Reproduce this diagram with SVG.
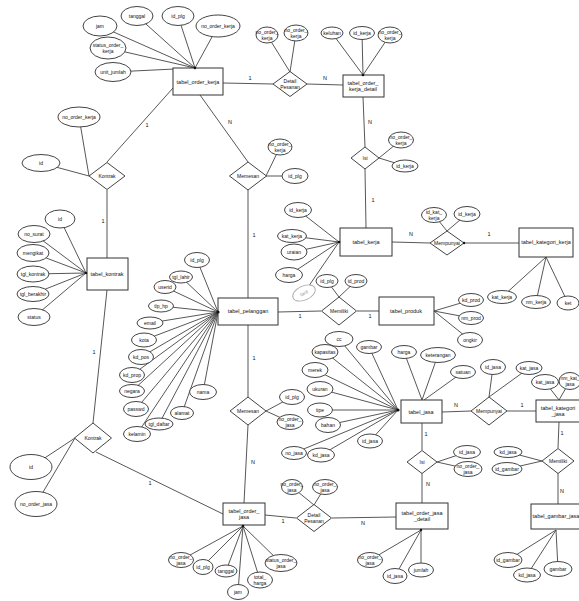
<svg xmlns="http://www.w3.org/2000/svg" width="579" height="601" viewBox="0 0 579 601">
<style>
.bg{fill:#fff}
.c line{stroke:#444;stroke-width:0.9;fill:none}
.e{fill:#fff;stroke:#444;stroke-width:1}
.g{fill:#fff;stroke:#aaa;stroke-width:0.9}
.r{fill:#fff;stroke:#333;stroke-width:1}
.d{fill:#fff;stroke:#444;stroke-width:1}
text{font-family:"Liberation Sans",Arial,sans-serif;font-size:5px;fill:#111;text-anchor:middle;dominant-baseline:central}
.et{font-size:5.5px}
.gt{fill:#999}
.k{font-size:5.5px}
.dot{fill:#111}
</style>
<rect class="bg" x="0" y="0" width="579" height="601"/>
<g id="connectors" class="c">
<line x1="223" y1="83" x2="273" y2="84"/>
<line x1="307" y1="84" x2="343" y2="85"/>
<line x1="363" y1="97" x2="365" y2="147"/>
<line x1="365" y1="169" x2="366" y2="228"/>
<line x1="173" y1="88" x2="107" y2="162"/>
<line x1="107" y1="190" x2="107" y2="258"/>
<line x1="200" y1="95" x2="248" y2="162"/>
<line x1="248" y1="190" x2="248" y2="298"/>
<line x1="392" y1="242" x2="430" y2="243"/>
<line x1="464" y1="243" x2="519" y2="243"/>
<line x1="278" y1="312" x2="321" y2="311"/>
<line x1="357" y1="311" x2="379" y2="311"/>
<line x1="248" y1="325" x2="248" y2="397"/>
<line x1="248" y1="425" x2="244" y2="503"/>
<line x1="107" y1="290" x2="93" y2="423"/>
<line x1="96" y1="452" x2="223" y2="514"/>
<line x1="265" y1="515" x2="296" y2="518"/>
<line x1="332" y1="518" x2="396" y2="517"/>
<line x1="442" y1="412" x2="471" y2="411"/>
<line x1="507" y1="411" x2="536" y2="411"/>
<line x1="422" y1="423" x2="422" y2="450"/>
<line x1="422" y1="473" x2="422" y2="503"/>
<line x1="559" y1="422" x2="558" y2="448"/>
<line x1="558" y1="473" x2="558" y2="504"/>
<line x1="100" y1="26" x2="195" y2="68"/>
<line x1="137" y1="16" x2="195" y2="68"/>
<line x1="178" y1="16" x2="195" y2="68"/>
<line x1="218" y1="26" x2="195" y2="68"/>
<line x1="108" y1="48" x2="195" y2="68"/>
<line x1="113" y1="72" x2="195" y2="68"/>
<line x1="267" y1="35" x2="290" y2="72"/>
<line x1="296" y1="33" x2="290" y2="72"/>
<line x1="332" y1="33" x2="363" y2="75"/>
<line x1="362" y1="33" x2="363" y2="75"/>
<line x1="390" y1="35" x2="363" y2="75"/>
<line x1="401" y1="140" x2="379" y2="158"/>
<line x1="405" y1="166" x2="379" y2="158"/>
<line x1="79" y1="117" x2="89" y2="176"/>
<line x1="41" y1="163" x2="89" y2="176"/>
<line x1="280" y1="147" x2="266" y2="176"/>
<line x1="295" y1="176" x2="266" y2="176"/>
<line x1="60" y1="219" x2="86" y2="273"/>
<line x1="34" y1="234" x2="86" y2="273"/>
<line x1="33" y1="253" x2="86" y2="273"/>
<line x1="33" y1="274" x2="86" y2="273"/>
<line x1="33" y1="294" x2="86" y2="273"/>
<line x1="34" y1="317" x2="86" y2="273"/>
<line x1="298" y1="210" x2="339" y2="242"/>
<line x1="292" y1="236" x2="339" y2="242"/>
<line x1="294" y1="252" x2="339" y2="242"/>
<line x1="289" y1="275" x2="339" y2="242"/>
<line x1="304" y1="293" x2="339" y2="242"/>
<line x1="434" y1="215" x2="447" y2="231"/>
<line x1="467" y1="214" x2="447" y2="231"/>
<line x1="502" y1="297" x2="546" y2="257"/>
<line x1="536" y1="302" x2="546" y2="257"/>
<line x1="568" y1="303" x2="546" y2="257"/>
<line x1="327" y1="281" x2="339" y2="297"/>
<line x1="356" y1="281" x2="339" y2="297"/>
<line x1="471" y1="300" x2="434" y2="311"/>
<line x1="471" y1="318" x2="434" y2="311"/>
<line x1="470" y1="340" x2="434" y2="311"/>
<line x1="197" y1="260" x2="218" y2="312"/>
<line x1="181" y1="277" x2="218" y2="312"/>
<line x1="165" y1="287" x2="218" y2="312"/>
<line x1="161" y1="306" x2="218" y2="312"/>
<line x1="150" y1="323" x2="218" y2="312"/>
<line x1="144" y1="340" x2="218" y2="312"/>
<line x1="141" y1="357" x2="218" y2="312"/>
<line x1="132" y1="375" x2="218" y2="312"/>
<line x1="132" y1="391" x2="218" y2="312"/>
<line x1="136" y1="409" x2="218" y2="312"/>
<line x1="137" y1="434" x2="218" y2="312"/>
<line x1="159" y1="424" x2="218" y2="312"/>
<line x1="182" y1="413" x2="218" y2="312"/>
<line x1="203" y1="392" x2="218" y2="312"/>
<line x1="292" y1="397" x2="266" y2="411"/>
<line x1="290" y1="422" x2="266" y2="411"/>
<line x1="339" y1="339" x2="398" y2="410"/>
<line x1="369" y1="347" x2="398" y2="410"/>
<line x1="325" y1="352" x2="398" y2="410"/>
<line x1="315" y1="370" x2="398" y2="410"/>
<line x1="320" y1="389" x2="398" y2="410"/>
<line x1="320" y1="410" x2="398" y2="410"/>
<line x1="328" y1="425" x2="398" y2="410"/>
<line x1="370" y1="441" x2="398" y2="410"/>
<line x1="294" y1="453" x2="398" y2="410"/>
<line x1="321" y1="455" x2="398" y2="410"/>
<line x1="404" y1="352" x2="422" y2="400"/>
<line x1="438" y1="355" x2="422" y2="400"/>
<line x1="463" y1="372" x2="424" y2="400"/>
<line x1="493" y1="367" x2="489" y2="397"/>
<line x1="529" y1="368" x2="489" y2="397"/>
<line x1="545" y1="382" x2="559" y2="400"/>
<line x1="570" y1="381" x2="559" y2="400"/>
<line x1="31" y1="467" x2="75" y2="438"/>
<line x1="36" y1="504" x2="75" y2="438"/>
<line x1="181" y1="560" x2="243" y2="526"/>
<line x1="202" y1="567" x2="243" y2="526"/>
<line x1="226" y1="571" x2="243" y2="526"/>
<line x1="238" y1="592" x2="243" y2="526"/>
<line x1="260" y1="580" x2="243" y2="526"/>
<line x1="281" y1="563" x2="243" y2="526"/>
<line x1="292" y1="487" x2="314" y2="505"/>
<line x1="325" y1="487" x2="314" y2="505"/>
<line x1="370" y1="560" x2="421" y2="530"/>
<line x1="395" y1="576" x2="421" y2="530"/>
<line x1="421" y1="570" x2="421" y2="530"/>
<line x1="467" y1="452" x2="437" y2="462"/>
<line x1="468" y1="469" x2="437" y2="462"/>
<line x1="508" y1="452" x2="542" y2="461"/>
<line x1="507" y1="469" x2="542" y2="461"/>
<line x1="508" y1="560" x2="556" y2="530"/>
<line x1="527" y1="575" x2="556" y2="530"/>
<line x1="558" y1="569" x2="556" y2="530"/>
<text class="k" x="250" y="78">1</text>
<text class="k" x="325" y="78">N</text>
<text class="k" x="370" y="122">N</text>
<text class="k" x="373" y="200">1</text>
<text class="k" x="147" y="125">1</text>
<text class="k" x="103" y="221">1</text>
<text class="k" x="230" y="122">N</text>
<text class="k" x="254" y="235">1</text>
<text class="k" x="411" y="234">N</text>
<text class="k" x="489" y="234">1</text>
<text class="k" x="300" y="316">1</text>
<text class="k" x="370" y="316">1</text>
<text class="k" x="254" y="358">1</text>
<text class="k" x="253" y="462">N</text>
<text class="k" x="94" y="352">1</text>
<text class="k" x="150" y="483">1</text>
<text class="k" x="283" y="521">1</text>
<text class="k" x="363" y="523">N</text>
<text class="k" x="456" y="405">N</text>
<text class="k" x="522" y="405">1</text>
<text class="k" x="426" y="434">1</text>
<text class="k" x="428" y="484">N</text>
<text class="k" x="562" y="433">1</text>
<text class="k" x="562" y="491">N</text>
</g>

<g id="tabel_order_kerja"><rect class="r" x="173" y="68" width="50" height="27"/><text class="et" x="198" y="82">tabel_order_kerja</text></g>
<g id="tabel_order_kerja_detail"><rect class="r" x="343" y="75" width="41" height="22"/><text class="et" x="363" y="86"><tspan x="363" dy="-3">tabel_order_</tspan><tspan x="363" dy="6">kerja_detail</tspan></text></g>
<g id="tabel_kontrak"><rect class="r" x="87" y="258" width="41" height="32"/><text class="et" x="107" y="274">tabel_kontrak</text></g>
<g id="tabel_kerja"><rect class="r" x="340" y="228" width="52" height="28"/><text class="et" x="366" y="242">tabel_kerja</text></g>
<g id="tabel_kategori_kerja"><rect class="r" x="519" y="228" width="54" height="29"/><text class="et" x="546" y="242">tabel_kategori_kerja</text></g>
<g id="tabel_pelanggan"><rect class="r" x="218" y="298" width="60" height="27"/><text class="et" x="248" y="311">tabel_pelanggan</text></g>
<g id="tabel_produk"><rect class="r" x="379" y="297" width="55" height="28"/><text class="et" x="406" y="311">tabel_produk</text></g>
<g id="tabel_jasa"><rect class="r" x="401" y="400" width="41" height="23"/><text class="et" x="421" y="412">tabel_jasa</text></g>
<g id="tabel_kategori_jasa"><rect class="r" x="536" y="400" width="46" height="22"/><text class="et" x="558" y="411"><tspan x="558" dy="-3">tabel_kategori</tspan><tspan x="558" dy="6">_jasa</tspan></text></g>
<g id="tabel_order_jasa"><rect class="r" x="223" y="503" width="42" height="22"/><text class="et" x="244" y="514"><tspan x="244" dy="-3">tabel_order_</tspan><tspan x="244" dy="6">jasa</tspan></text></g>
<g id="tabel_order_jasa_detail"><rect class="r" x="396" y="503" width="52" height="26"/><text class="et" x="422" y="516"><tspan x="422" dy="-3">tabel_order_jasa</tspan><tspan x="422" dy="6">_detail</tspan></text></g>
<g id="tabel_gambar_jasa"><rect class="r" x="531" y="504" width="51" height="25"/><text class="et" x="556" y="516">tabel_gambar_jasa</text></g>

<g id="rel_detail_pesanan_kerja"><polygon class="d" points="290,71.5 307,84 290,96.5 273,84"/><text x="290" y="84"><tspan x="290" dy="-3">Detail</tspan><tspan x="290" dy="6">Pesanan</tspan></text></g>
<g id="rel_kontrak_kerja"><polygon class="d" points="107,162.5 125,176 107,189.5 89,176"/><text x="107" y="176">Kontrak</text></g>
<g id="rel_memesan_kerja"><polygon class="d" points="248,162 266.5,176 248,190 229.5,176"/><text x="248" y="176">Memesan</text></g>
<g id="rel_isi_kerja"><polygon class="d" points="365,147 379,158 365,169 351,158"/><text x="365" y="158">Isi</text></g>
<g id="rel_mempunyai_kerja"><polygon class="d" points="447,231 464,243 447,255 430,243"/><text x="447" y="243">Mempunyai</text></g>
<g id="rel_memiliki_produk"><polygon class="d" points="339,297 356.5,311 339,325 321.5,311"/><text x="339" y="311">Memiliki</text></g>
<g id="rel_memesan_jasa"><polygon class="d" points="248,397 266,411 248,425 230,411"/><text x="248" y="411">Memesan</text></g>
<g id="rel_mempunyai_jasa"><polygon class="d" points="489,397 507,411 489,425 471,411"/><text x="489" y="411">Mempunyai</text></g>
<g id="rel_kontrak_jasa"><polygon class="d" points="93,423 111.5,438 93,453 74.5,438"/><text x="93" y="438">Kontrak</text></g>
<g id="rel_detail_pesanan_jasa"><polygon class="d" points="314,504.5 331.5,518 314,531.5 296.5,518"/><text x="314" y="518"><tspan x="314" dy="-3">Detail</tspan><tspan x="314" dy="6">Pesanan</tspan></text></g>
<g id="rel_isi_jasa"><polygon class="d" points="422,450.5 437,462 422,473.5 407,462"/><text x="422" y="462">Isi</text></g>
<g id="rel_memiliki_gambar"><polygon class="d" points="558,448.5 574,461 558,473.5 542,461"/><text x="558" y="461">Memiliki</text></g>

<g id="attr_ok_jam"><ellipse class="e" cx="100" cy="26" rx="17" ry="10"/><text x="100" y="26">jam</text></g>
<g id="attr_ok_tanggal"><ellipse class="e" cx="137" cy="16" rx="16" ry="9.5"/><text x="137" y="16">tanggal</text></g>
<g id="attr_ok_id_plg"><ellipse class="e" cx="178" cy="16" rx="16" ry="9.5"/><text x="178" y="16">id_plg</text></g>
<g id="attr_ok_no"><ellipse class="e" cx="218" cy="26" rx="22" ry="11"/><text x="218" y="26">no_order_kerja</text></g>
<g id="attr_ok_status"><ellipse class="e" cx="108" cy="48" rx="18" ry="11"/><text x="108" y="48"><tspan x="108" dy="-3">status_order_</tspan><tspan x="108" dy="6">kerja</tspan></text></g>
<g id="attr_ok_unit"><ellipse class="e" cx="113" cy="72" rx="18" ry="9.5"/><text x="113" y="72">unit_jumlah</text></g>

<g id="attr_dp1_a"><ellipse class="e" cx="267" cy="35" rx="11" ry="8"/><text x="267" y="35"><tspan x="267" dy="-3">no_order_</tspan><tspan x="267" dy="6">kerja</tspan></text></g>
<g id="attr_dp1_b"><ellipse class="e" cx="296" cy="33" rx="12" ry="8"/><text x="296" y="33"><tspan x="296" dy="-3">no_order_</tspan><tspan x="296" dy="6">kerja</tspan></text></g>

<g id="attr_okd_keluhan"><ellipse class="e" cx="332" cy="33" rx="11" ry="6"/><text x="332" y="33">keluhan</text></g>
<g id="attr_okd_id_kerja"><ellipse class="e" cx="362" cy="33" rx="12.5" ry="6.5"/><text x="362" y="33">id_kerja</text></g>
<g id="attr_okd_no"><ellipse class="e" cx="390" cy="35" rx="12" ry="8"/><text x="390" y="35"><tspan x="390" dy="-3">no_order_</tspan><tspan x="390" dy="6">kerja</tspan></text></g>

<g id="attr_isi1_no"><ellipse class="e" cx="401" cy="140" rx="12.5" ry="8"/><text x="401" y="140"><tspan x="401" dy="-3">no_order_</tspan><tspan x="401" dy="6">kerja</tspan></text></g>
<g id="attr_isi1_id"><ellipse class="e" cx="405" cy="166" rx="13" ry="6"/><text x="405" y="166">id_kerja</text></g>

<g id="attr_k1_no"><ellipse class="e" cx="79" cy="117" rx="21" ry="10"/><text x="79" y="117">no_order_kerja</text></g>
<g id="attr_k1_id"><ellipse class="e" cx="41" cy="163" rx="19" ry="8.5"/><text x="41" y="163">id</text></g>

<g id="attr_m1_no"><ellipse class="e" cx="280" cy="147" rx="12" ry="8"/><text x="280" y="147"><tspan x="280" dy="-3">no_order_</tspan><tspan x="280" dy="6">kerja</tspan></text></g>
<g id="attr_m1_id_plg"><ellipse class="e" cx="295" cy="176" rx="13" ry="7.5"/><text x="295" y="176">id_plg</text></g>

<g id="attr_kt_id"><ellipse class="e" cx="60" cy="219" rx="15" ry="9"/><text x="60" y="219">id</text></g>
<g id="attr_kt_no_surat"><ellipse class="e" cx="34" cy="234" rx="16" ry="8.5"/><text x="34" y="234">no_surat</text></g>
<g id="attr_kt_mengikat"><ellipse class="e" cx="33" cy="253" rx="16" ry="8.5"/><text x="33" y="253">mengikat</text></g>
<g id="attr_kt_tgl1"><ellipse class="e" cx="33" cy="274" rx="16" ry="8"/><text x="33" y="274">tgl_kontrak</text></g>
<g id="attr_kt_tgl2"><ellipse class="e" cx="33" cy="294" rx="16" ry="7.5"/><text x="33" y="294">tgl_berakhir</text></g>
<g id="attr_kt_status"><ellipse class="e" cx="34" cy="317" rx="16" ry="8.5"/><text x="34" y="317">status</text></g>

<g id="attr_kj_id"><ellipse class="e" cx="298" cy="210" rx="13.5" ry="7.5"/><text x="298" y="210">id_kerja</text></g>
<g id="attr_kj_kat"><ellipse class="e" cx="292" cy="236" rx="14.5" ry="6.5"/><text x="292" y="236">kat_kerja</text></g>
<g id="attr_kj_uraian"><ellipse class="e" cx="294" cy="252" rx="13" ry="8"/><text x="294" y="252">uraian</text></g>
<g id="attr_kj_harga"><ellipse class="e" cx="289" cy="275" rx="13.5" ry="7.5"/><text x="289" y="275">harga</text></g>
<g id="attr_kj_tarif"><ellipse class="g" cx="304" cy="293" rx="12" ry="7" transform="rotate(-25 304 293)"/><text class="gt" x="304" y="293" transform="rotate(-25 304 293)">tarif</text></g>

<g id="attr_mp1_kat"><ellipse class="e" cx="434" cy="215" rx="12.5" ry="7.5"/><text x="434" y="215"><tspan x="434" dy="-3">id_kat_</tspan><tspan x="434" dy="6">kerja</tspan></text></g>
<g id="attr_mp1_id"><ellipse class="e" cx="467" cy="214" rx="13" ry="7.5"/><text x="467" y="214">id_kerja</text></g>

<g id="attr_kk_kat"><ellipse class="e" cx="502" cy="297" rx="14.5" ry="6.5"/><text x="502" y="297">kat_kerja</text></g>
<g id="attr_kk_nm"><ellipse class="e" cx="536" cy="302" rx="14.5" ry="6.5"/><text x="536" y="302">nm_kerja</text></g>
<g id="attr_kk_ket"><ellipse class="e" cx="568" cy="303" rx="11" ry="7"/><text x="568" y="303">ket</text></g>

<g id="attr_ml1_plg"><ellipse class="e" cx="327" cy="281" rx="11" ry="6.5"/><text x="327" y="281">id_plg</text></g>
<g id="attr_ml1_prod"><ellipse class="e" cx="356" cy="281" rx="11" ry="6.5"/><text x="356" y="281">id_prod</text></g>

<g id="attr_pr_kd"><ellipse class="e" cx="471" cy="300" rx="12.5" ry="6.5"/><text x="471" y="300">kd_prod</text></g>
<g id="attr_pr_nm"><ellipse class="e" cx="471" cy="318" rx="12.5" ry="6.5"/><text x="471" y="318">nm_prod</text></g>
<g id="attr_pr_ongkir"><ellipse class="e" cx="470" cy="340" rx="12.5" ry="7.5"/><text x="470" y="340">ongkir</text></g>

<g id="attr_pl_id"><ellipse class="e" cx="197" cy="260" rx="12.5" ry="7.5"/><text x="197" y="260">id_plg</text></g>
<g id="attr_pl_tgl_lahir"><ellipse class="e" cx="181" cy="277" rx="11.5" ry="6"/><text x="181" y="277">tgl_lahir</text></g>
<g id="attr_pl_userid"><ellipse class="e" cx="165" cy="287" rx="11" ry="6.5"/><text x="165" y="287">userid</text></g>
<g id="attr_pl_tlp"><ellipse class="e" cx="161" cy="306" rx="12.5" ry="6"/><text x="161" y="306">tlp_hp</text></g>
<g id="attr_pl_email"><ellipse class="e" cx="150" cy="323" rx="13" ry="6"/><text x="150" y="323">email</text></g>
<g id="attr_pl_kota"><ellipse class="e" cx="144" cy="340" rx="12.5" ry="7"/><text x="144" y="340">kota</text></g>
<g id="attr_pl_kd_pos"><ellipse class="e" cx="141" cy="357" rx="12.5" ry="7.5"/><text x="141" y="357">kd_pos</text></g>
<g id="attr_pl_kd_prop"><ellipse class="e" cx="132" cy="375" rx="12.5" ry="7.5"/><text x="132" y="375">kd_prop</text></g>
<g id="attr_pl_negara"><ellipse class="e" cx="132" cy="391" rx="12.5" ry="6.5"/><text x="132" y="391">negara</text></g>
<g id="attr_pl_passwd"><ellipse class="e" cx="136" cy="409" rx="12.5" ry="7.5"/><text x="136" y="409">passwd</text></g>
<g id="attr_pl_kelamin"><ellipse class="e" cx="137" cy="434" rx="13.5" ry="7.5"/><text x="137" y="434">kelamin</text></g>
<g id="attr_pl_tgl_daftar"><ellipse class="e" cx="159" cy="424" rx="14" ry="6"/><text x="159" y="424">tgl_daftar</text></g>
<g id="attr_pl_alamat"><ellipse class="e" cx="182" cy="413" rx="11.5" ry="6.5"/><text x="182" y="413">alamat</text></g>
<g id="attr_pl_nama"><ellipse class="e" cx="203" cy="392" rx="13.5" ry="7.5"/><text x="203" y="392">nama</text></g>

<g id="attr_m2_plg"><ellipse class="e" cx="292" cy="397" rx="12.5" ry="7.5"/><text x="292" y="397">id_plg</text></g>
<g id="attr_m2_no"><ellipse class="e" cx="290" cy="422" rx="13" ry="7.5"/><text x="290" y="422"><tspan x="290" dy="-3">no_order_</tspan><tspan x="290" dy="6">jasa</tspan></text></g>

<g id="attr_js_cc"><ellipse class="e" cx="339" cy="339" rx="14" ry="7.5"/><text x="339" y="339">cc</text></g>
<g id="attr_js_gambar"><ellipse class="e" cx="369" cy="347" rx="12.5" ry="6.5"/><text x="369" y="347">gambar</text></g>
<g id="attr_js_kapasitas"><ellipse class="e" cx="325" cy="352" rx="13" ry="7.5"/><text x="325" y="352">kapasitas</text></g>
<g id="attr_js_merek"><ellipse class="e" cx="315" cy="370" rx="13" ry="7.5"/><text x="315" y="370">merek</text></g>
<g id="attr_js_ukuran"><ellipse class="e" cx="320" cy="389" rx="13" ry="7.5"/><text x="320" y="389">ukuran</text></g>
<g id="attr_js_tipe"><ellipse class="e" cx="320" cy="410" rx="12.5" ry="7"/><text x="320" y="410">tipe</text></g>
<g id="attr_js_bahan"><ellipse class="e" cx="328" cy="425" rx="12.5" ry="7.5"/><text x="328" y="425">bahan</text></g>
<g id="attr_js_id"><ellipse class="e" cx="370" cy="441" rx="12.5" ry="7"/><text x="370" y="441">id_jasa</text></g>
<g id="attr_js_no"><ellipse class="e" cx="294" cy="453" rx="12.5" ry="6.5"/><text x="294" y="453">no_jasa</text></g>
<g id="attr_js_kd"><ellipse class="e" cx="321" cy="455" rx="13.5" ry="7"/><text x="321" y="455">kd_jasa</text></g>
<g id="attr_js_harga"><ellipse class="e" cx="404" cy="352" rx="12.5" ry="6.5"/><text x="404" y="352">harga</text></g>
<g id="attr_js_ket"><ellipse class="e" cx="438" cy="355" rx="17.5" ry="7.5"/><text x="438" y="355">keterangan</text></g>
<g id="attr_js_satuan"><ellipse class="e" cx="463" cy="372" rx="12.5" ry="6.5"/><text x="463" y="372">satuan</text></g>

<g id="attr_mp2_id"><ellipse class="e" cx="493" cy="367" rx="12.5" ry="7.5"/><text x="493" y="367">id_jasa</text></g>
<g id="attr_mp2_kat"><ellipse class="e" cx="529" cy="368" rx="13" ry="6.5"/><text x="529" y="368">kat_jasa</text></g>

<g id="attr_kjs_kat"><ellipse class="e" cx="545" cy="382" rx="13.5" ry="7.5"/><text x="545" y="382">kat_jasa</text></g>
<g id="attr_kjs_nm"><ellipse class="e" cx="570" cy="381" rx="11" ry="8.5"/><text x="570" y="381"><tspan x="570" dy="-3">nm_kat_</tspan><tspan x="570" dy="6">jasa</tspan></text></g>

<g id="attr_k2_id"><ellipse class="e" cx="31" cy="467" rx="21" ry="12.5"/><text x="31" y="467">id</text></g>
<g id="attr_k2_no"><ellipse class="e" cx="36" cy="504" rx="21" ry="12.5"/><text x="36" y="504">no_order_jasa</text></g>

<g id="attr_oj_no"><ellipse class="e" cx="181" cy="560" rx="12.5" ry="7.5"/><text x="181" y="560"><tspan x="181" dy="-3">no_order_</tspan><tspan x="181" dy="6">jasa</tspan></text></g>
<g id="attr_oj_plg"><ellipse class="e" cx="203" cy="567" rx="10" ry="7.5"/><text x="203" y="567">id_plg</text></g>
<g id="attr_oj_tanggal"><ellipse class="e" cx="226" cy="571" rx="11" ry="6"/><text x="226" y="571">tanggal</text></g>
<g id="attr_oj_jam"><ellipse class="e" cx="238" cy="592" rx="10.5" ry="7.5"/><text x="238" y="592">jam</text></g>
<g id="attr_oj_total"><ellipse class="e" cx="260" cy="580" rx="12.5" ry="8"/><text x="260" y="580"><tspan x="260" dy="-3">total_</tspan><tspan x="260" dy="6">harga</tspan></text></g>
<g id="attr_oj_status"><ellipse class="e" cx="281" cy="563" rx="16" ry="8.5"/><text x="281" y="563"><tspan x="281" dy="-3">status_order_</tspan><tspan x="281" dy="6">jasa</tspan></text></g>

<g id="attr_dp2_a"><ellipse class="e" cx="292" cy="487" rx="10.5" ry="7.5"/><text x="292" y="487"><tspan x="292" dy="-3">no_order_</tspan><tspan x="292" dy="6">jasa</tspan></text></g>
<g id="attr_dp2_b"><ellipse class="e" cx="325" cy="487" rx="12.5" ry="7.5"/><text x="325" y="487"><tspan x="325" dy="-3">no_order_</tspan><tspan x="325" dy="6">jasa</tspan></text></g>

<g id="attr_ojd_no"><ellipse class="e" cx="370" cy="560" rx="12.5" ry="7.5"/><text x="370" y="560"><tspan x="370" dy="-3">no_order_</tspan><tspan x="370" dy="6">jasa</tspan></text></g>
<g id="attr_ojd_id"><ellipse class="e" cx="395" cy="576" rx="12" ry="7.5"/><text x="395" y="576">id_jasa</text></g>
<g id="attr_ojd_jumlah"><ellipse class="e" cx="421" cy="570" rx="12.5" ry="7"/><text x="421" y="570">jumlah</text></g>

<g id="attr_isi2_id"><ellipse class="e" cx="467" cy="452" rx="13.5" ry="6.5"/><text x="467" y="452">id_jasa</text></g>
<g id="attr_isi2_no"><ellipse class="e" cx="468" cy="469" rx="14" ry="7.5"/><text x="468" y="469"><tspan x="468" dy="-3">no_order_</tspan><tspan x="468" dy="6">jasa</tspan></text></g>

<g id="attr_ml2_kd"><ellipse class="e" cx="508" cy="452" rx="14" ry="5.5"/><text x="508" y="452">kd_jasa</text></g>
<g id="attr_ml2_id"><ellipse class="e" cx="507" cy="469" rx="15" ry="6.5"/><text x="507" y="469">id_gambar</text></g>

<g id="attr_gj_id"><ellipse class="e" cx="508" cy="560" rx="14" ry="7.5"/><text x="508" y="560">id_gambar</text></g>
<g id="attr_gj_kd"><ellipse class="e" cx="527" cy="575" rx="13.5" ry="7"/><text x="527" y="575">kd_jasa</text></g>
<g id="attr_gj_gambar"><ellipse class="e" cx="558" cy="569" rx="14" ry="7.5"/><text x="558" y="569">gambar</text></g>

<g id="junctions">
<circle class="dot" cx="195" cy="68" r="1.3"/>
<circle class="dot" cx="363" cy="75" r="1.3"/>
<circle class="dot" cx="339" cy="242" r="1.3"/>
<circle class="dot" cx="218" cy="312" r="1.6"/>
<circle class="dot" cx="398" cy="410" r="1.6"/>
<circle class="dot" cx="243" cy="526" r="1.3"/>
<circle class="dot" cx="421" cy="530" r="1.2"/>
<circle class="dot" cx="86" cy="273" r="1.2"/>
<circle class="dot" cx="464" cy="243" r="1.2"/>
</g>
</svg>
